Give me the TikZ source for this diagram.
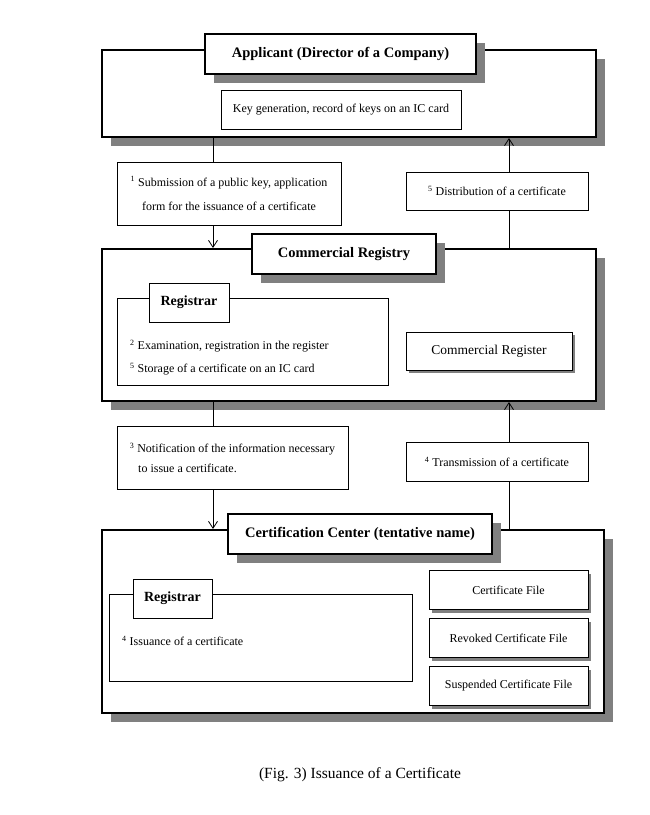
\documentclass[tikz,border=0pt]{standalone}
\usepackage{fontspec}
\setmainfont{Liberation Serif}
\usetikzlibrary{shadows,arrows.meta}
\definecolor{shgray}{RGB}{128,128,128}
\tikzset{
  sh/.style={drop shadow={shadow xshift=#1, shadow yshift=-#1, fill=shgray, opacity=1}},
  outerbox/.style={draw, line width=2pt, fill=white, sh=9pt, inner sep=0pt},
  titlebox/.style={draw, line width=2.4pt, fill=white, sh=9pt, inner sep=0pt, font=\fontsize{14.5}{17}\selectfont\bfseries},
  plainbox/.style={draw, line width=0.9pt, fill=white, inner sep=0pt, font=\fontsize{12}{14}\selectfont},
  filebox/.style={plainbox, sh=3pt},
  tabbox/.style={plainbox, font=\fontsize{14}{16}\selectfont\bfseries},
  txt/.style={anchor=west, inner sep=0pt, font=\fontsize{12}{14}\selectfont},
  flow/.style={line width=0.8pt},
  arr/.style={flow, -{Straight Barb[length=7pt,width=9pt,line width=0.8pt]}},
}
\newcommand{\sn}[1]{\textsuperscript{#1}}
\begin{document}
\begin{tikzpicture}[x=1pt,y=-1pt]
\useasboundingbox (0,0) rectangle (650,815);
% Applicant
\node[outerbox, minimum width=494, minimum height=87] (app) at (349,93.5) {};
\node[titlebox, minimum width=271, minimum height=40] (appT) at (340.5,54) {Applicant (Director of a Company)};
\node[plainbox, minimum width=240, minimum height=39] (keygen) at (341,110) {Key generation, record of keys on an IC card};
% step boxes 1 and 5
\node[plainbox, minimum width=224, minimum height=63, align=center] (b1) at (229,193.5) {\sn{1} Submission of a public key, application\\[10pt]form for the issuance of a certificate};
\node[plainbox, minimum width=182, minimum height=38] (b5) at (497,191) {\sn{5} Distribution of a certificate};
% Commercial Registry
\node[outerbox, minimum width=494, minimum height=152] (cr) at (349,325) {};
\node[titlebox, minimum width=184, minimum height=40] (crT) at (344,254) {Commercial Registry};
\node[plainbox, minimum width=271, minimum height=87] (reg1) at (252.5,341.5) {};
\node[tabbox, minimum width=80, minimum height=39] (reg1T) at (189,302.5) {Registrar};
\node[txt] (t2) at (130,346) {\sn{2} Examination, registration in the register};
\node[txt] (t5) at (130,369) {\sn{5} Storage of a certificate on an IC card};
\node[filebox, minimum width=166, minimum height=38, font=\fontsize{13.5}{16}\selectfont] (creg) at (489,351) {Commercial Register};
% step boxes 3 and 4
\node[plainbox, minimum width=231, minimum height=63, align=left] (b3) at (232.5,458) {\sn{3} Notification of the information necessary\\[6pt]\hspace*{0.7em}to issue a certificate.};
\node[plainbox, minimum width=182, minimum height=39] (b4) at (497,462) {\sn{4} Transmission of a certificate};
% Certification Center
\node[outerbox, minimum width=502, minimum height=183] (cc) at (353,621.5) {};
\node[titlebox, minimum width=264, minimum height=40] (ccT) at (360,534) {Certification Center (tentative name)};
\node[plainbox, minimum width=303, minimum height=87] (reg2) at (260.5,637.5) {};
\node[tabbox, minimum width=79, minimum height=39] (reg2T) at (172.5,598.5) {Registrar};
\node[txt] (t4) at (122,641) {\sn{4} Issuance of a certificate};
\node[filebox, minimum width=159, minimum height=39] (f1) at (508.5,590) {Certificate File};
\node[filebox, minimum width=159, minimum height=39] (f2) at (508.5,638) {Revoked Certificate File};
\node[filebox, minimum width=159, minimum height=39] (f3) at (508.5,686) {Suspended Certificate File};
% connectors
\coordinate (L) at (213,0);
\coordinate (R) at (509,0);
\draw[flow] (app.south -| L) -- (b1.north -| L);
\draw[arr] (b1.south -| L) -- (cr.north -| L);
\draw[flow] (cr.north -| R) -- (b5.south -| R);
\draw[arr] (b5.north -| R) -- (app.south -| R);
\draw[flow] (cr.south -| L) -- (b3.north -| L);
\draw[arr] (b3.south -| L) -- (cc.north -| L);
\draw[flow] (cc.north -| R) -- (b4.south -| R);
\draw[arr] (b4.north -| R) -- (cr.south -| R);
% caption
\node[font=\fontsize{15.5}{18}\selectfont] (cap) at (360,775) {(Fig. 3) Issuance of a Certificate};
\end{tikzpicture}
\end{document}
